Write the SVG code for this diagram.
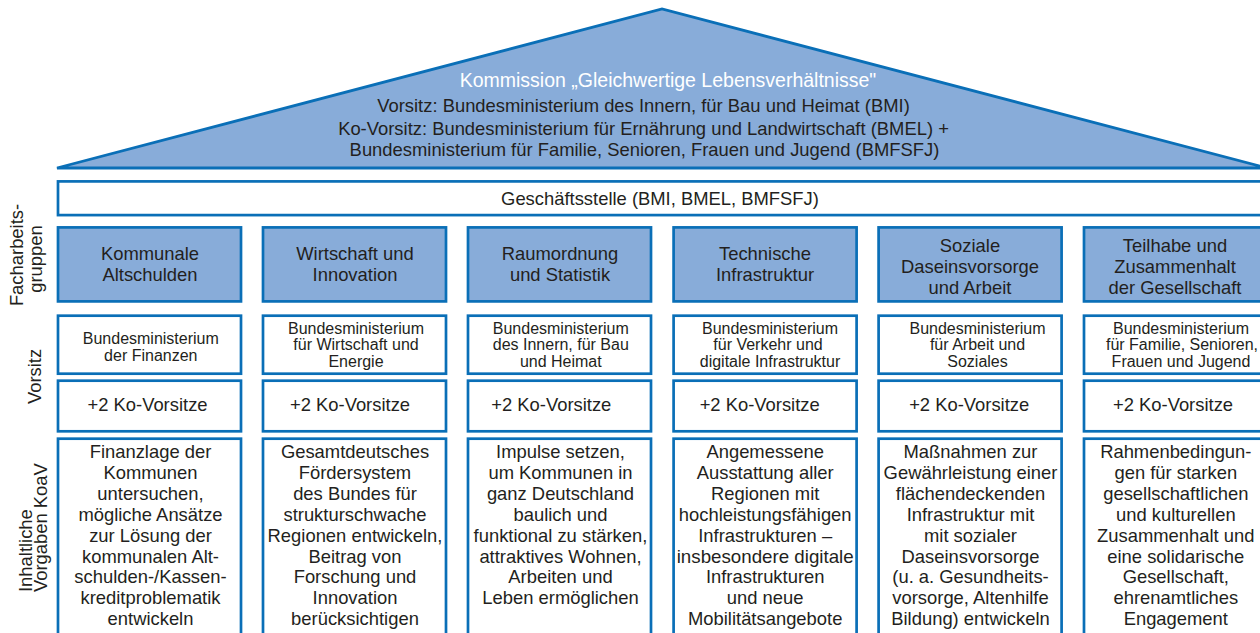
<svg xmlns="http://www.w3.org/2000/svg" width="1260" height="633" viewBox="0 0 1260 633">
<style>
text { font-family: "Liberation Sans", Arial, Helvetica, sans-serif; fill: #231f20; }
.box { fill: #ffffff; stroke: #0a6fb7; stroke-width: 2.7; }
.hbox { fill: #88acd9; stroke: #0a6fb7; stroke-width: 2.7; }
.roof { fill: #88acd9; stroke: #0a6fb7; stroke-width: 2.8; stroke-linejoin: miter; stroke-miterlimit: 3; }
.t { font-size: 18.4px; text-anchor: middle; }
.s { font-size: 16px; text-anchor: middle; }
.lbl { font-size: 18.4px; }
.white { fill: #ffffff; }
</style>
<rect width="1260" height="633" fill="#ffffff"/>

<g id="kommission">
  <polygon class="roof" points="57,168 662,9 1267,168"/>
  <text class="t white" x="668" y="86.5" style="font-size:19.5px">Kommission „Gleichwertige Lebensverhältnisse"</text>
  <text class="t" x="643.5" y="112" style="font-size:18.4px">Vorsitz: Bundesministerium des Innern, für Bau und Heimat (BMI)</text>
  <text class="t" x="643.5" y="135" style="font-size:18.4px">Ko-Vorsitz: Bundesministerium für Ernährung und Landwirtschaft (BMEL) +</text>
  <text class="t" x="644.5" y="156" style="font-size:18.4px">Bundesministerium für Familie, Senioren, Frauen und Jugend (BMFSFJ)</text>
</g>

<g id="geschaeftsstelle">
  <rect class="box" x="58" y="181.4" width="1215" height="33.7"/>
  <text class="t" x="660" y="205">Geschäftsstelle (BMI, BMEL, BMFSFJ)</text>
</g>

<g id="labels">
  <g id="label-facharbeitsgruppen">
    <text class="lbl" text-anchor="middle" transform="translate(23.3,255) rotate(-90)">Facharbeits-</text>
    <text class="lbl" text-anchor="middle" transform="translate(42,259) rotate(-90)">gruppen</text>
  </g>
  <g id="label-vorsitz">
    <text class="lbl" text-anchor="middle" transform="translate(40.5,376.5) rotate(-90)">Vorsitz</text>
  </g>
  <g id="label-inhaltliche">
    <text class="lbl" text-anchor="start" transform="translate(32,592) rotate(-90)">Inhaltliche</text>
    <text class="lbl" text-anchor="start" transform="translate(47,592) rotate(-90)">Vorgaben KoaV</text>
  </g>
</g>

<g id="connectors"></g>

<!-- Column 1 -->
<g id="col1">
  <rect class="hbox" x="58" y="227.4" width="183" height="74"/>
  <text class="t" x="150"><tspan x="150" y="260">Kommunale</tspan><tspan x="150" y="281.3">Altschulden</tspan></text>
  <rect class="box" x="58" y="315.7" width="183" height="58"/>
  <text class="s"><tspan x="150.8" y="344">Bundesministerium</tspan><tspan x="150.8" y="360.7">der Finanzen</tspan></text>
  <rect class="box" x="58" y="380.7" width="183" height="50.6"/>
  <text class="t" x="147.5" y="410.7">+2 Ko-Vorsitze</text>
  <rect class="box" x="58" y="438.7" width="183" height="200"/>
  <text class="t"><tspan x="150.5" y="458.3">Finanzlage der</tspan><tspan x="150.5" dy="20.85">Kommunen</tspan><tspan x="150.5" dy="20.85">untersuchen,</tspan><tspan x="150.5" dy="20.85">mögliche Ansätze</tspan><tspan x="150.5" dy="20.85">zur Lösung der</tspan><tspan x="150.5" dy="20.85">kommunalen Alt-</tspan><tspan x="150.5" dy="20.85">schulden-/Kassen-</tspan><tspan x="150.5" dy="20.85">kreditproblematik</tspan><tspan x="150.5" dy="20.85">entwickeln</tspan></text>
</g>

<!-- Column 2 -->
<g id="col2">
  <rect class="hbox" x="263" y="227.4" width="183" height="74"/>
  <text class="t"><tspan x="355" y="260">Wirtschaft und</tspan><tspan x="355" y="281.3">Innovation</tspan></text>
  <rect class="box" x="263" y="315.7" width="183" height="58"/>
  <text class="s"><tspan x="356" y="333.5">Bundesministerium</tspan><tspan x="356" y="350.3">für Wirtschaft und</tspan><tspan x="356" y="367">Energie</tspan></text>
  <rect class="box" x="263" y="380.7" width="183" height="50.6"/>
  <text class="t" x="350" y="410.7">+2 Ko-Vorsitze</text>
  <rect class="box" x="263" y="438.7" width="183" height="200"/>
  <text class="t"><tspan x="355" y="458.3">Gesamtdeutsches</tspan><tspan x="355" dy="20.85">Fördersystem</tspan><tspan x="355" dy="20.85">des Bundes für</tspan><tspan x="355" dy="20.85">strukturschwache</tspan><tspan x="355" dy="20.85">Regionen entwickeln,</tspan><tspan x="355" dy="20.85">Beitrag von</tspan><tspan x="355" dy="20.85">Forschung und</tspan><tspan x="355" dy="20.85">Innovation</tspan><tspan x="355" dy="20.85">berücksichtigen</tspan></text>
</g>

<!-- Column 3 -->
<g id="col3">
  <rect class="hbox" x="468" y="227.4" width="183" height="74"/>
  <text class="t"><tspan x="560" y="260">Raumordnung</tspan><tspan x="560" y="281.3">und Statistik</tspan></text>
  <rect class="box" x="468" y="315.7" width="183" height="58"/>
  <text class="s"><tspan x="560.8" y="333.5">Bundesministerium</tspan><tspan x="560.8" y="350.3">des Innern, für Bau</tspan><tspan x="560.8" y="367">und Heimat</tspan></text>
  <rect class="box" x="468" y="380.7" width="183" height="50.6"/>
  <text class="t" x="551.3" y="410.7">+2 Ko-Vorsitze</text>
  <rect class="box" x="468" y="438.7" width="183" height="200"/>
  <text class="t"><tspan x="560.5" y="458.3">Impulse setzen,</tspan><tspan x="560.5" dy="20.85">um Kommunen in</tspan><tspan x="560.5" dy="20.85">ganz Deutschland</tspan><tspan x="560.5" dy="20.85">baulich und</tspan><tspan x="560.5" dy="20.85">funktional zu stärken,</tspan><tspan x="560.5" dy="20.85">attraktives Wohnen,</tspan><tspan x="560.5" dy="20.85">Arbeiten und</tspan><tspan x="560.5" dy="20.85">Leben ermöglichen</tspan></text>
</g>

<!-- Column 4 -->
<g id="col4">
  <rect class="hbox" x="673.6" y="227.4" width="183" height="74"/>
  <text class="t"><tspan x="765" y="260">Technische</tspan><tspan x="765" y="281.3">Infrastruktur</tspan></text>
  <rect class="box" x="673.6" y="315.7" width="183" height="58"/>
  <text class="s"><tspan x="770" y="333.5">Bundesministerium</tspan><tspan x="768" y="350.3">für Verkehr und</tspan><tspan x="770" y="367">digitale Infrastruktur</tspan></text>
  <rect class="box" x="673.6" y="380.7" width="183" height="50.6"/>
  <text class="t" x="759.7" y="410.7">+2 Ko-Vorsitze</text>
  <rect class="box" x="673.6" y="438.7" width="183" height="200"/>
  <text class="t"><tspan x="765.2" y="458.3">Angemessene</tspan><tspan x="765.2" dy="20.85">Ausstattung aller</tspan><tspan x="765.2" dy="20.85">Regionen mit</tspan><tspan x="765.2" dy="20.85">hochleistungsfähigen</tspan><tspan x="765.2" dy="20.85">Infrastrukturen –</tspan><tspan x="765.2" dy="20.85" textLength="177" lengthAdjust="spacingAndGlyphs">insbesondere digitale</tspan><tspan x="765.2" dy="20.85">Infrastrukturen</tspan><tspan x="765.2" dy="20.85">und neue</tspan><tspan x="765.2" dy="20.85">Mobilitätsangebote</tspan></text>
</g>

<!-- Column 5 -->
<g id="col5">
  <rect class="hbox" x="878.6" y="227.4" width="183" height="74"/>
  <text class="t"><tspan x="970" y="251.5">Soziale</tspan><tspan x="970" y="272.8">Daseinsvorsorge</tspan><tspan x="970" y="294">und Arbeit</tspan></text>
  <rect class="box" x="878.6" y="315.7" width="183" height="58"/>
  <text class="s"><tspan x="977.5" y="333.5">Bundesministerium</tspan><tspan x="977.5" y="350.3">für Arbeit und</tspan><tspan x="977.5" y="367">Soziales</tspan></text>
  <rect class="box" x="878.6" y="380.7" width="183" height="50.6"/>
  <text class="t" x="969.2" y="410.7">+2 Ko-Vorsitze</text>
  <rect class="box" x="878.6" y="438.7" width="183" height="200"/>
  <text class="t"><tspan x="970.5" y="458.3">Maßnahmen zur</tspan><tspan x="970.5" dy="20.85">Gewährleistung einer</tspan><tspan x="970.5" dy="20.85">flächendeckenden</tspan><tspan x="970.5" dy="20.85">Infrastruktur mit</tspan><tspan x="970.5" dy="20.85">mit sozialer</tspan><tspan x="970.5" dy="20.85">Daseinsvorsorge</tspan><tspan x="970.5" dy="20.85">(u. a. Gesundheits-</tspan><tspan x="970.5" dy="20.85">vorsorge, Altenhilfe</tspan><tspan x="970.5" dy="20.85">Bildung) entwickeln</tspan></text>
</g>

<!-- Column 6 -->
<g id="col6">
  <rect class="hbox" x="1084" y="227.4" width="183" height="74"/>
  <text class="t"><tspan x="1175" y="251.5">Teilhabe und</tspan><tspan x="1175" y="272.8">Zusammenhalt</tspan><tspan x="1175" y="294">der Gesellschaft</tspan></text>
  <rect class="box" x="1084" y="315.7" width="183" height="58"/>
  <text class="s"><tspan x="1181" y="333.5">Bundesministerium</tspan><tspan x="1182" y="350.3">für Familie, Senioren,</tspan><tspan x="1181" y="367">Frauen und Jugend</tspan></text>
  <rect class="box" x="1084" y="380.7" width="183" height="50.6"/>
  <text class="t" x="1173" y="410.7">+2 Ko-Vorsitze</text>
  <rect class="box" x="1084" y="438.7" width="183" height="200"/>
  <text class="t"><tspan x="1175.8" y="458.3">Rahmenbedingun-</tspan><tspan x="1175.8" dy="20.85">gen für starken</tspan><tspan x="1175.8" dy="20.85">gesellschaftlichen</tspan><tspan x="1175.8" dy="20.85">und kulturellen</tspan><tspan x="1175.8" dy="20.85">Zusammenhalt und</tspan><tspan x="1175.8" dy="20.85">eine solidarische</tspan><tspan x="1175.8" dy="20.85">Gesellschaft,</tspan><tspan x="1175.8" dy="20.85">ehrenamtliches</tspan><tspan x="1175.8" dy="20.85">Engagement</tspan></text>
</g>
</svg>
